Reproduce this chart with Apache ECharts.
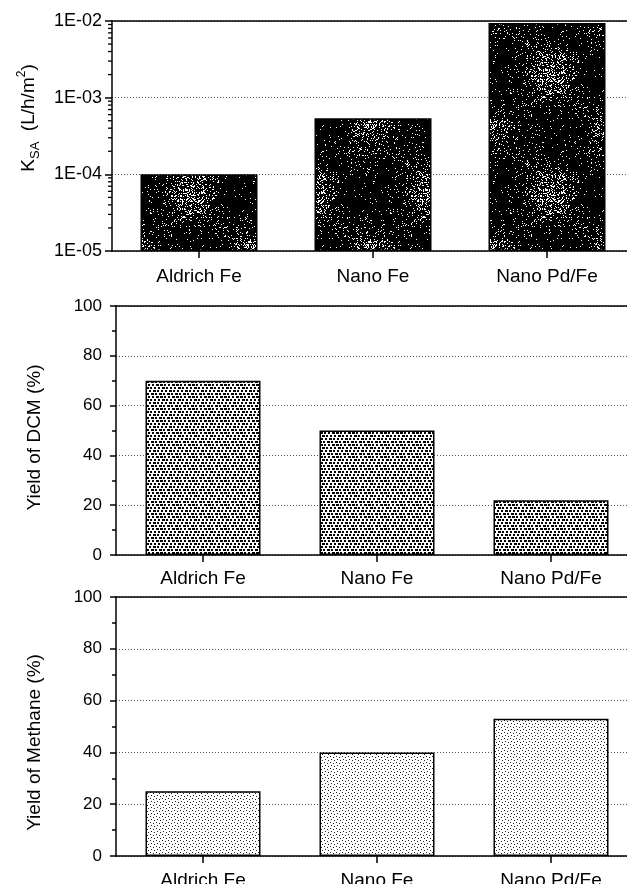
<!DOCTYPE html>
<html><head><meta charset="utf-8">
<script src="https://cdn.jsdelivr.net/npm/echarts@6/dist/echarts.min.js"></script>
<style>html,body{margin:0;padding:0;background:#fff}#c{width:627px;height:884px}</style>
</head><body><div id="c"></div>
<script>
// ---- data ----
const categories = ['Aldrich Fe', 'Nano Fe', 'Nano Pd/Fe'];
const ksaValues = [1.0e-4, 5.4e-4, 9.4e-3];
const dcmYield = [70, 50, 22];
const methaneYield = [25, 40, 53];
const ksaMin = 1e-5, ksaMax = 1e-2;
const ksaTickLabels = ['1E-05', '1E-04', '1E-03', '1E-02'];
const ksaDecades = [1e-5, 1e-4, 1e-3];
const ksaMinorMultipliers = [2, 3, 4, 5, 6, 7, 8, 9];
const yieldTicks = [0, 20, 40, 60, 80, 100];

// ---- textures ----
const FONT = '"Liberation Sans", Arial, Helvetica, sans-serif';
function hash(i) { const x = Math.sin(i * 12.9898 + 78.233) * 43758.5453; return x - Math.floor(x); }
function makeCanvas(w, h, draw) { const c = document.createElement('canvas'); c.width = w; c.height = h; draw(c.getContext('2d'), w, h); return c; }

const speckle = makeCanvas(120, 120, (g, w, h) => {
  g.fillStyle = '#000'; g.fillRect(0, 0, w, h);
  g.fillStyle = '#fff';
  for (let y = 0; y < h; y++) for (let x = 0; x < w; x++) {
    const blot = 0.5 + 0.5 * Math.sin(x / 19 + 1) * Math.cos(y / 23);
    if (hash(y * w + x) < 0.03 + 0.30 * Math.pow(blot, 3)) g.fillRect(x, y, 1, 1);
  }
});
const denseDots = makeCanvas(16, 12, (g, w, h) => {
  g.fillStyle = '#fff'; g.fillRect(0, 0, w, h);
  g.fillStyle = '#000';
  let k = 0;
  for (let r = 0; r < 4; r++) {
    const y = r * 3;
    const off = [0, 2, 1, 3][r];
    for (let cx = 0; cx < 4; cx++) {
      const x = (off + cx * 4) % w;
      const wd = hash(k++) < 0.5 ? 3 : 2;
      g.fillRect(x, y, wd, 2);
      if (x + wd > w) g.fillRect(0, y, x + wd - w, 2);
    }
  }
});
const lightDots = makeCanvas(6, 6, (g, w, h) => {
  g.fillStyle = '#fff'; g.fillRect(0, 0, w, h);
  g.fillStyle = '#222';
  [[0, 0], [3, 1], [1, 3], [4, 4]].forEach(([x, y]) => g.fillRect(x, y, 1, 1));
});

// ---- axes helpers ----
const AX = { color: '#000', width: 1.5 };
function catAxis(gi, margin) {
  return {
    type: 'category', gridIndex: gi, data: categories, position: 'bottom',
    axisLine: { show: true, onZero: false, lineStyle: AX },
    axisTick: { show: true, alignWithLabel: true, length: 7, lineStyle: AX },
    axisLabel: { color: '#000', fontSize: 19, fontFamily: FONT, margin: margin },
    splitLine: { show: false }
  };
}
function topLine(gi) {
  return {
    type: 'category', gridIndex: gi, data: categories, position: 'top',
    axisLine: { show: true, onZero: false, lineStyle: AX },
    axisTick: { show: false }, axisLabel: { show: false }, splitLine: { show: false }
  };
}
const split = { show: true, lineStyle: { type: [1, 2], color: '#555', width: 1 } };
function yieldAxis(gi, name, pad) {
  return {
    type: 'value', gridIndex: gi, min: yieldTicks[0], max: yieldTicks[yieldTicks.length - 1], interval: 20,
    axisLine: { show: true, lineStyle: AX },
    axisTick: { show: true, length: 6, lineStyle: AX },
    minorTick: { show: true, splitNumber: 2, length: 4, lineStyle: AX },
    axisLabel: { color: '#000', fontSize: 17, fontFamily: FONT, margin: 14 },
    splitLine: split,
    name: name, nameLocation: 'middle', nameGap: 72,
    nameTextStyle: { color: '#000', fontSize: 19, fontFamily: FONT, padding: pad }
  };
}

// minor log ticks (2..9 within each decade), drawn through the log axis scale
const ksaMinorTicks = [];
ksaDecades.forEach(d => ksaMinorMultipliers.forEach(m => ksaMinorTicks.push([0, d * m])));

const option = {
  animation: false,
  backgroundColor: '#fff',
  grid: [
    { left: 112, top: 21, width: 522, height: 230, outerBoundsMode: 'none', containLabel: false },
    { left: 116, top: 306, width: 522, height: 249, outerBoundsMode: 'none', containLabel: false },
    { left: 116, top: 597, width: 522, height: 259, outerBoundsMode: 'none', containLabel: false }
  ],
  xAxis: [catAxis(0, 16), catAxis(1, 14), catAxis(2, 15), topLine(0), topLine(1), topLine(2)],
  yAxis: [
    {
      type: 'log', gridIndex: 0, logBase: 10, min: ksaMin, max: ksaMax,
      axisLine: { show: true, lineStyle: AX },
      axisTick: { show: true, length: 7, lineStyle: AX },
      minorTick: { show: false },
      axisLabel: {
        color: '#000', fontSize: 18, fontFamily: FONT, margin: 10,
        formatter: v => ksaTickLabels[Math.round(Math.log10(v)) + 5] || ''
      },
      splitLine: split,
      name: '{a|K}{s|SA}{a|  (L/h/m}{p|2}{a|)}', nameLocation: 'middle', nameGap: 70,
      nameTextStyle: {
        color: '#000', fontSize: 19, fontFamily: FONT, padding: [0, 0, 0, 36],
        rich: {
          a: { fontSize: 19, fontFamily: FONT, color: '#000', lineHeight: 26, verticalAlign: 'middle' },
          s: { fontSize: 13, fontFamily: FONT, color: '#000', lineHeight: 13, verticalAlign: 'bottom' },
          p: { fontSize: 12, fontFamily: FONT, color: '#000', lineHeight: 12, verticalAlign: 'top' }
        }
      }
    },
    yieldAxis(1, 'Yield of DCM (%)', [0, 14, 0, 0]),
    yieldAxis(2, 'Yield of Methane (%)', [0, 32, 0, 0])
  ],
  series: [
    {
      // invisible base so the log-axis bars start at the axis minimum
      type: 'bar', xAxisIndex: 0, yAxisIndex: 0, stack: 'ksa', barWidth: 117, silent: true,
      data: ksaValues.map(() => ksaMin),
      itemStyle: { color: 'rgba(0,0,0,0)' }
    },
    {
      type: 'bar', xAxisIndex: 0, yAxisIndex: 0, stack: 'ksa', barWidth: 117,
      data: ksaValues.map(v => v - ksaMin),
      itemStyle: { color: { image: speckle, repeat: 'repeat' }, borderColor: '#000', borderWidth: 1.5 }
    },
    {
      type: 'custom', xAxisIndex: 0, yAxisIndex: 0, silent: true, clip: false,
      data: ksaMinorTicks, encode: { x: 0, y: 1 },
      renderItem: (params, api) => {
        const y = api.coord([0, api.value(1)])[1];
        const x0 = params.coordSys.x;
        return { type: 'line', shape: { x1: x0 - 4, y1: y, x2: x0, y2: y }, style: { stroke: '#000', lineWidth: 1.3 } };
      }
    },
    {
      type: 'bar', xAxisIndex: 1, yAxisIndex: 1, data: dcmYield, barWidth: 115,
      itemStyle: { color: { image: denseDots, repeat: 'repeat' }, borderColor: '#000', borderWidth: 1.5 }
    },
    {
      type: 'bar', xAxisIndex: 2, yAxisIndex: 2, data: methaneYield, barWidth: 115,
      itemStyle: { color: { image: lightDots, repeat: 'repeat' }, borderColor: '#000', borderWidth: 1.5 }
    }
  ]
};
const chart = echarts.init(document.getElementById('c'), null, { renderer: 'canvas' });
chart.setOption(option);
</script>
</body></html>
